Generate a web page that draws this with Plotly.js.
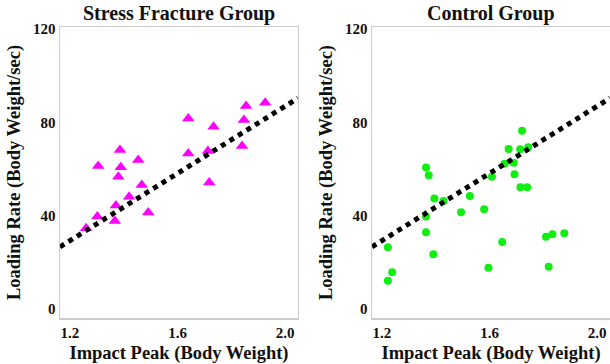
<!DOCTYPE html>
<html>
<head>
<meta charset="utf-8">
<script src="https://cdn.plot.ly/plotly-3.0.1.min.js"></script>
<style>html,body{margin:0;padding:0;background:#fff;}#chart{width:610px;height:364px;}</style>
</head>
<body>
<div id="chart"></div>
<script>
// Stress fracture group (triangles)
const stressX = [1.386, 1.305, 1.454, 1.389, 1.380, 1.467, 1.420, 1.371, 1.302, 1.367, 1.491, 1.260,
                 1.855, 1.926, 1.640, 1.847, 1.734, 1.640, 1.713, 1.840, 1.718];
const stressY = [68.2, 61.3, 63.9, 60.7, 56.7, 53.1, 48.1, 44.3, 39.6, 37.7, 41.3, 34.6,
                 87.0, 88.4, 81.7, 81.0, 78.1, 66.7, 67.7, 69.9, 54.2];
// Control group (circles)
const controlX = [1.364, 1.374, 1.395, 1.429, 1.527, 1.580, 1.494, 1.364, 1.364, 1.391, 1.222, 1.238, 1.222, 1.596,
                  1.721, 1.671, 1.714, 1.744, 1.656, 1.690, 1.609, 1.693, 1.715, 1.740, 1.647, 1.810, 1.834, 1.878, 1.820];
const controlY = [60.6, 57.3, 47.4, 46.3, 48.4, 42.7, 41.4, 39.6, 32.9, 23.4, 26.4, 15.7, 12.1, 17.6,
                  76.4, 68.6, 68.5, 69.3, 62.2, 62.7, 56.7, 57.7, 52.2, 52.2, 28.7, 30.9, 32.0, 32.4, 18.1];
// Regression lines (end points)
const stressFitX = [1.163, 2.048];
const stressFitY = [26.6, 90.4];
const controlFitX = [1.163, 2.048];
const controlFitY = [26.6, 90.4];
// Ticks and labels
const xTicks = [1.2, 1.6, 2.0];
const xTickText = ['1.2', '1.6', '2.0'];
const yTicks = [0, 40, 80, 120];
const yTickText = ['0', '40', '80', '120'];
const panelTitles = ['Stress Fracture Group', 'Control Group'];
const xTitle = 'Impact Peak (Body Weight)';
const yTitle = 'Loading Rate (Body Weight/sec)';

const FONT = 'Liberation Serif, Times New Roman, serif';

const traces = [
  {x: stressX, y: stressY, xaxis: 'x', yaxis: 'y', mode: 'markers', type: 'scatter',
   marker: {symbol: 'triangle-up', size: 11, color: '#ff00ff'}, showlegend: false},
  {x: stressFitX, y: stressFitY, xaxis: 'x', yaxis: 'y', mode: 'lines', type: 'scatter',
   line: {color: '#000', width: 5, dash: 'dot'}, showlegend: false},
  {x: controlX, y: controlY, xaxis: 'x2', yaxis: 'y2', mode: 'markers', type: 'scatter',
   marker: {symbol: 'circle', size: 8, color: '#11ee11'}, showlegend: false},
  {x: controlFitX, y: controlFitY, xaxis: 'x2', yaxis: 'y2', mode: 'lines', type: 'scatter',
   line: {color: '#000', width: 5, dash: 'dot'}, showlegend: false}
];

function xAxis(domain, anchor) {
  return {
    domain: domain, anchor: anchor, range: [1.163, 2.048],
    tickmode: 'array', tickvals: xTicks, ticktext: xTickText,
    ticks: '', showgrid: false, zeroline: false,
    showline: true, mirror: true, linecolor: '#cccccc', linewidth: 1.5,
    tickfont: {family: FONT, size: 15, color: '#111', weight: 'bold'},
    title: {text: xTitle, font: {family: FONT, size: 18.5, color: '#111', weight: 'bold'}, standoff: 9}
  };
}
function yAxis(anchor) {
  return {
    anchor: anchor, domain: [0, 1], range: [-3.9, 120.9],
    tickmode: 'array', tickvals: yTicks, ticktext: yTickText,
    ticks: '', showgrid: false, zeroline: false,
    showline: true, mirror: true, linecolor: '#cccccc', linewidth: 1.5,
    tickfont: {family: FONT, size: 15, color: '#111', weight: 'bold'},
    title: {text: yTitle, font: {family: FONT, size: 18.5, color: '#111', weight: 'bold'}, standoff: 7}
  };
}

const layout = {
  width: 610, height: 364,
  margin: {l: 60, r: 0, t: 27, b: 46, pad: 0},
  paper_bgcolor: '#fff', plot_bgcolor: '#fff',
  xaxis: xAxis([0, 0.4327], 'y'),
  yaxis: yAxis('x'),
  xaxis2: xAxis([0.5673, 1], 'y2'),
  yaxis2: yAxis('x2'),
  annotations: [
    {text: panelTitles[0], xref: 'paper', yref: 'paper', x: 0.2164, y: 1.045, xanchor: 'center', yanchor: 'middle',
     showarrow: false, font: {family: FONT, size: 20, color: '#111', weight: 'bold'}},
    {text: panelTitles[1], xref: 'paper', yref: 'paper', x: 0.7836, y: 1.045, xanchor: 'center', yanchor: 'middle',
     showarrow: false, font: {family: FONT, size: 20, color: '#111', weight: 'bold'}}
  ]
};

Plotly.newPlot('chart', traces, layout, {staticPlot: true, displayModeBar: false});
</script>
</body>
</html>
